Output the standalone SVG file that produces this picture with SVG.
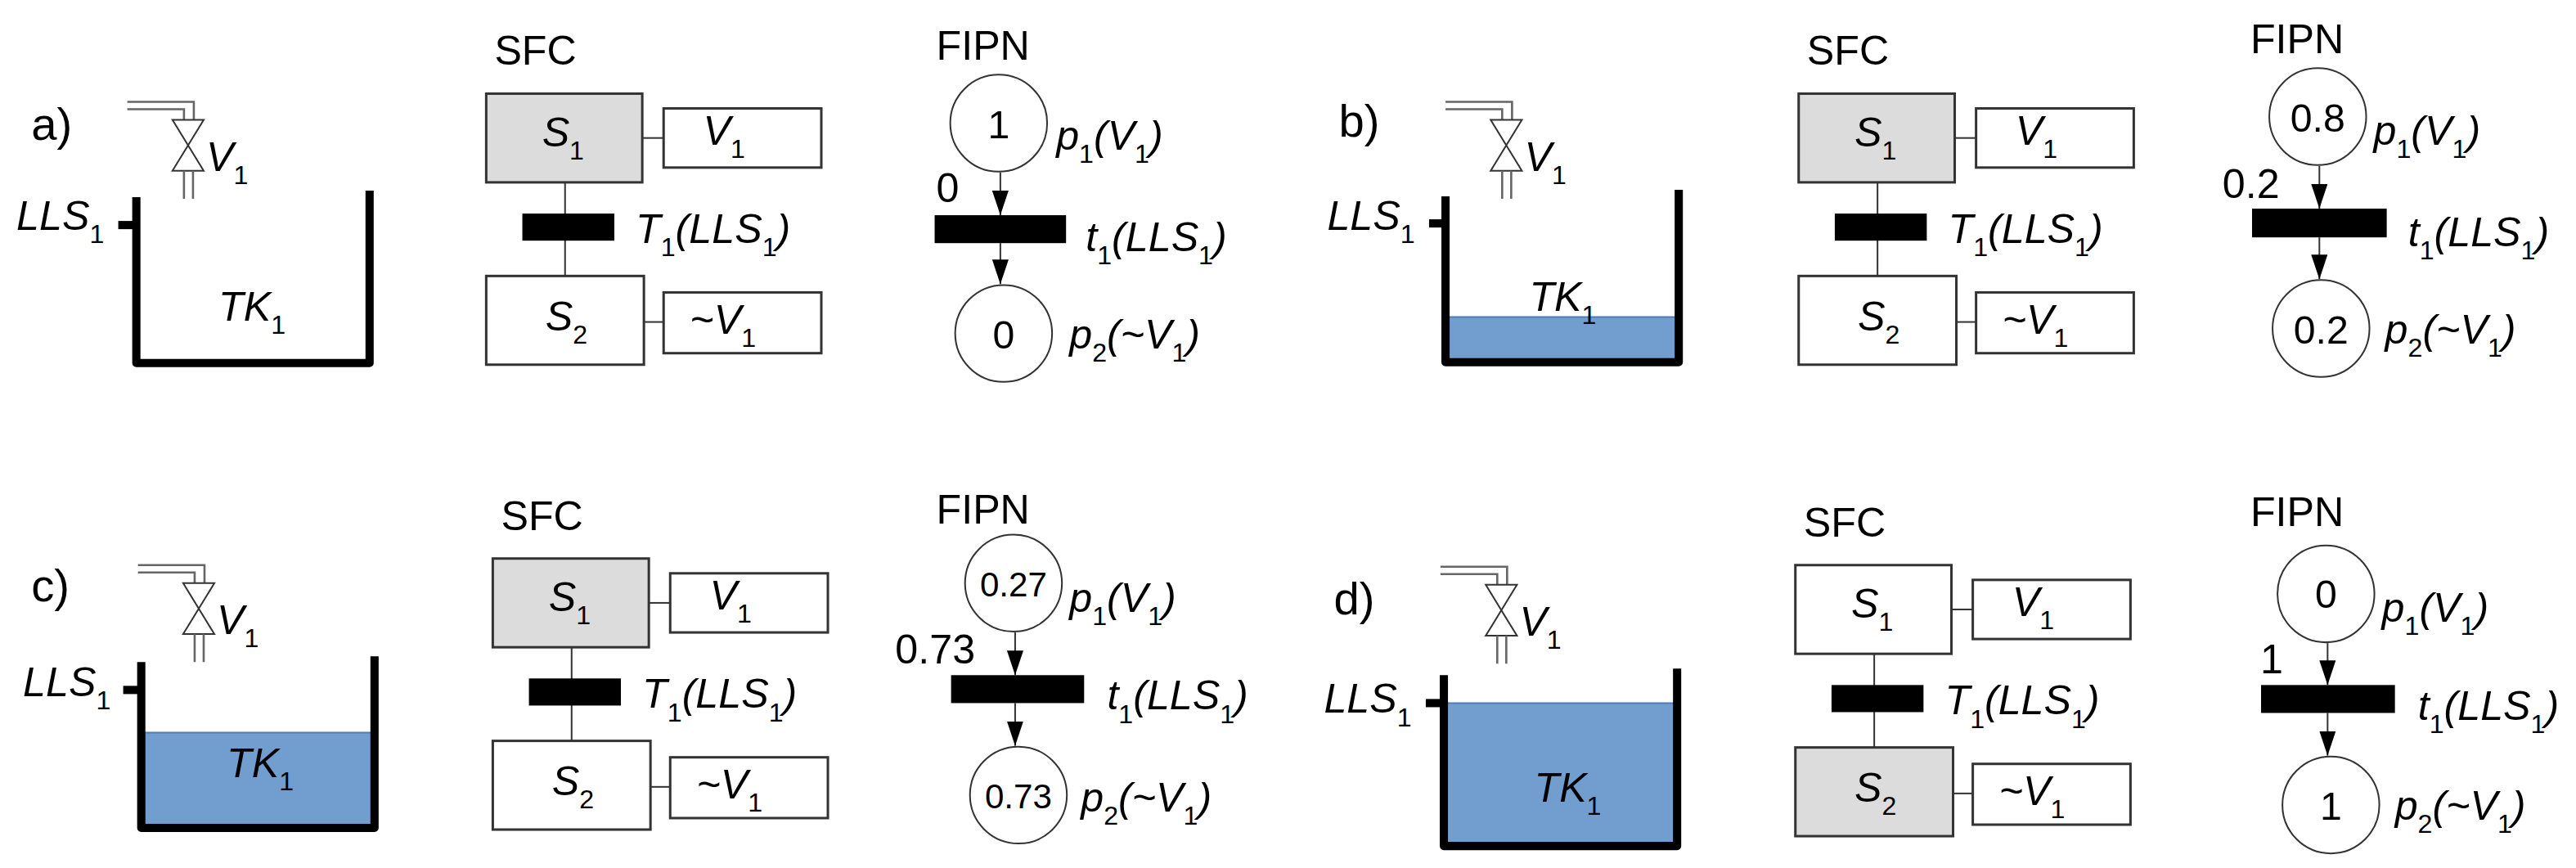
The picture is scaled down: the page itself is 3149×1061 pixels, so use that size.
<svg xmlns="http://www.w3.org/2000/svg" width="3149" height="1061" viewBox="0 0 3149 1061">
<defs>
<style>
text{font-family:"Liberation Sans",Arial,sans-serif;font-size:25px;fill:#000}
.i{font-style:italic}
.s{font-size:16px;font-style:normal}
.lab{font-size:28px}
.num{font-size:24px}
.box{fill:#fff;stroke:#333;stroke-width:1.5}
.gbox{fill:#dcdcdc;stroke:#333;stroke-width:1.5}
.ln{stroke:#333;stroke-width:1;fill:none}
.bar{fill:#000}
.pl{fill:#fff;stroke:#333;stroke-width:1}
.wall{stroke:#000;stroke-width:5;fill:none;stroke-linejoin:round}
.water{fill:#719dcf}
.wtop{stroke:#4f7db5;stroke-width:1}
.pipe{stroke:#666;stroke-width:1.3;fill:none}
</style>
<marker id="ah" viewBox="0 0 15 10" refX="15" refY="5" markerWidth="15" markerHeight="10" orient="auto" markerUnits="userSpaceOnUse"><path d="M0,0L15,5L0,10z" fill="#000"/></marker>
<g id="valve">
<path class="pipe" d="M-37,0H3.5V11M-37,4.5H-2.5V11"/>
<path d="M-9.5,11H9.5L-9.5,42H9.5Z" fill="#fff" stroke="#333" stroke-width="1"/>
<path class="pipe" d="M-2.5,42V59M3,42V59"/>
<text x="11" y="42" class="i">V<tspan class="s" dy="8">1</tspan></text>
</g>
<g id="sfc">
<text x="5" y="-17.5">SFC</text>
<line class="ln" x1="95" y1="27" x2="108" y2="27"/>
<rect class="box" x="108" y="9" width="96" height="36"/>
<text x="132" y="31" class="i">V<tspan class="s" dy="8">1</tspan></text>
<line class="ln" x1="48" y1="54" x2="48" y2="111"/>
<rect class="bar" x="22" y="73" width="56" height="16.5"/>
<text x="91" y="91" class="i">T<tspan class="s" dy="8">1</tspan><tspan dy="-8">(LLS</tspan><tspan class="s" dy="8">1</tspan><tspan dy="-8">)</tspan></text>
<line class="ln" x1="96" y1="139" x2="108" y2="139"/>
<rect class="box" x="108" y="121" width="96" height="37"/>
<text x="124" y="146" class="i">~V<tspan class="s" dy="8">1</tspan></text>
</g>
</defs>
<g transform="scale(2.008)">
<g id="connectors">
<line class="ln" x1="609" y1="105" x2="609" y2="131" marker-end="url(#ah)"/>
<line class="ln" x1="609" y1="148" x2="609" y2="173" marker-end="url(#ah)"/>
<line class="ln" x1="1412" y1="101" x2="1412" y2="127" marker-end="url(#ah)"/>
<line class="ln" x1="1412" y1="144.5" x2="1412" y2="170" marker-end="url(#ah)"/>
<line class="ln" x1="618" y1="385" x2="618" y2="411" marker-end="url(#ah)"/>
<line class="ln" x1="618" y1="428" x2="618" y2="454" marker-end="url(#ah)"/>
<line class="ln" x1="1417" y1="391.5" x2="1417" y2="417" marker-end="url(#ah)"/>
<line class="ln" x1="1417" y1="434" x2="1417" y2="460" marker-end="url(#ah)"/>
</g>
<!-- panel a -->
<g id="tankA">
<text x="19" y="85" class="lab">a)</text>
<use href="#valve" x="114.5" y="62"/>
<text x="10" y="140" class="i">LLS<tspan class="s" dy="8">1</tspan></text>
<line class="wall" x1="72" y1="137" x2="83" y2="137"/>
<path class="wall" d="M83,120V221H225V116"/>
<text x="133" y="195" class="i">TK<tspan class="s" dy="8">1</tspan></text>
</g>
<g id="sfcA" transform="translate(296,57)">
<use href="#sfc"/>
<rect class="gbox" x="0" y="0" width="95" height="54"/>
<text x="34" y="32" class="i">S<tspan class="s" dy="8">1</tspan></text>
<rect class="box" x="0" y="111" width="96" height="54"/>
<text x="36" y="144" class="i">S<tspan class="s" dy="8">2</tspan></text>
</g>
<g id="fipnA">
<text x="570" y="36.5">FIPN</text>
<circle class="pl" cx="608" cy="75" r="29.5"/>
<text x="608" y="84" text-anchor="middle" class="num">1</text>
<text x="643" y="91" class="i">p<tspan class="s" dy="8">1</tspan><tspan dy="-8">(V</tspan><tspan class="s" dy="8">1</tspan><tspan dy="-8">)</tspan></text>
<text x="570" y="123">0</text>
<rect class="bar" x="569" y="131" width="80" height="17"/>
<text x="661" y="153" class="i">t<tspan class="s" dy="8">1</tspan><tspan dy="-8">(LLS</tspan><tspan class="s" dy="8">1</tspan><tspan dy="-8">)</tspan></text>
<circle class="pl" cx="611" cy="203" r="29.5"/>
<text x="611" y="212" text-anchor="middle" class="num">0</text>
<text x="651" y="212" class="i">p<tspan class="s" dy="8">2</tspan><tspan dy="-8">(~V</tspan><tspan class="s" dy="8">1</tspan><tspan dy="-8">)</tspan></text>
</g>
<!-- panel b -->
<g id="tankB">
<text x="815" y="83" class="lab">b)</text>
<use href="#valve" x="917" y="62"/>
<text x="808" y="140" class="i">LLS<tspan class="s" dy="8">1</tspan></text>
<line class="wall" x1="870" y1="136" x2="880" y2="136"/>
<rect class="water" x="880" y="193" width="142" height="28"/>
<line class="wtop" x1="880" y1="193" x2="1022" y2="193"/>
<path class="wall" d="M880,119.5V220.5H1022V115.5"/>
<text x="931" y="189" class="i">TK<tspan class="s" dy="8">1</tspan></text>
</g>
<g id="sfcB" transform="translate(1095,57)">
<use href="#sfc"/>
<rect class="gbox" x="0" y="0" width="95" height="54"/>
<text x="34" y="32" class="i">S<tspan class="s" dy="8">1</tspan></text>
<rect class="box" x="0" y="111" width="96" height="54"/>
<text x="36" y="144" class="i">S<tspan class="s" dy="8">2</tspan></text>
</g>
<g id="fipnB">
<text x="1370" y="32.5">FIPN</text>
<circle class="pl" cx="1411" cy="71" r="29.5"/>
<text x="1411" y="80" text-anchor="middle" class="num">0.8</text>
<text x="1445" y="88" class="i">p<tspan class="s" dy="8">1</tspan><tspan dy="-8">(V</tspan><tspan class="s" dy="8">1</tspan><tspan dy="-8">)</tspan></text>
<text x="1353" y="120.5">0.2</text>
<rect class="bar" x="1371" y="127" width="82" height="17.5"/>
<text x="1466" y="150" class="i">t<tspan class="s" dy="8">1</tspan><tspan dy="-8">(LLS</tspan><tspan class="s" dy="8">1</tspan><tspan dy="-8">)</tspan></text>
<circle class="pl" cx="1413" cy="200" r="29.5"/>
<text x="1413" y="209" text-anchor="middle" class="num">0.2</text>
<text x="1452" y="209" class="i">p<tspan class="s" dy="8">2</tspan><tspan dy="-8">(~V</tspan><tspan class="s" dy="8">1</tspan><tspan dy="-8">)</tspan></text>
</g>
<!-- panel c -->
<g id="tankC">
<text x="19" y="366" class="lab">c)</text>
<use href="#valve" x="121" y="344"/>
<text x="14" y="424" class="i">LLS<tspan class="s" dy="8">1</tspan></text>
<line class="wall" x1="75" y1="420" x2="86" y2="420"/>
<rect class="water" x="86" y="446" width="142" height="58"/>
<line class="wtop" x1="86" y1="446" x2="228" y2="446"/>
<path class="wall" d="M86,403V504H228V399.5"/>
<text x="138" y="473" class="i">TK<tspan class="s" dy="8">1</tspan></text>
</g>
<g id="sfcC" transform="translate(300,340)">
<use href="#sfc"/>
<rect class="gbox" x="0" y="0" width="95" height="54"/>
<text x="34" y="32" class="i">S<tspan class="s" dy="8">1</tspan></text>
<rect class="box" x="0" y="111" width="96" height="54"/>
<text x="36" y="144" class="i">S<tspan class="s" dy="8">2</tspan></text>
</g>
<g id="fipnC">
<text x="570" y="318.5">FIPN</text>
<circle class="pl" cx="617" cy="355" r="29.5"/>
<text x="617" y="363" text-anchor="middle" style="font-size:21px">0.27</text>
<text x="651" y="372.5" class="i">p<tspan class="s" dy="8">1</tspan><tspan dy="-8">(V</tspan><tspan class="s" dy="8">1</tspan><tspan dy="-8">)</tspan></text>
<text x="545" y="404">0.73</text>
<rect class="bar" x="579" y="411" width="81" height="17"/>
<text x="674" y="432" class="i">t<tspan class="s" dy="8">1</tspan><tspan dy="-8">(LLS</tspan><tspan class="s" dy="8">1</tspan><tspan dy="-8">)</tspan></text>
<circle class="pl" cx="620" cy="484" r="29.5"/>
<text x="620" y="492" text-anchor="middle" style="font-size:21px">0.73</text>
<text x="658" y="494" class="i">p<tspan class="s" dy="8">2</tspan><tspan dy="-8">(~V</tspan><tspan class="s" dy="8">1</tspan><tspan dy="-8">)</tspan></text>
</g>
<!-- panel d -->
<g id="tankD">
<text x="812" y="374" class="lab">d)</text>
<use href="#valve" x="914" y="345"/>
<text x="806" y="434" class="i">LLS<tspan class="s" dy="8">1</tspan></text>
<line class="wall" x1="868" y1="428" x2="879" y2="428"/>
<rect class="water" x="879" y="428" width="142" height="87"/>
<line class="wtop" x1="879" y1="428" x2="1021" y2="428"/>
<path class="wall" d="M879,411V515H1021V407"/>
<text x="934" y="488" class="i">TK<tspan class="s" dy="8">1</tspan></text>
</g>
<g id="sfcD" transform="translate(1093,344)">
<use href="#sfc"/>
<rect class="box" x="0" y="0" width="95" height="54"/>
<text x="34" y="32" class="i">S<tspan class="s" dy="8">1</tspan></text>
<rect class="gbox" x="0" y="111" width="96" height="54"/>
<text x="36" y="144" class="i">S<tspan class="s" dy="8">2</tspan></text>
</g>
<g id="fipnD">
<text x="1370" y="320">FIPN</text>
<circle class="pl" cx="1416" cy="361.5" r="29.5"/>
<text x="1416" y="370" text-anchor="middle" class="num">0</text>
<text x="1450" y="378.5" class="i">p<tspan class="s" dy="8">1</tspan><tspan dy="-8">(V</tspan><tspan class="s" dy="8">1</tspan><tspan dy="-8">)</tspan></text>
<text x="1376" y="410">1</text>
<rect class="bar" x="1376.5" y="417" width="81.5" height="17"/>
<text x="1472" y="438" class="i">t<tspan class="s" dy="8">1</tspan><tspan dy="-8">(LLS</tspan><tspan class="s" dy="8">1</tspan><tspan dy="-8">)</tspan></text>
<circle class="pl" cx="1419" cy="490" r="29.5"/>
<text x="1419" y="499" text-anchor="middle" class="num">1</text>
<text x="1458" y="499" class="i">p<tspan class="s" dy="8">2</tspan><tspan dy="-8">(~V</tspan><tspan class="s" dy="8">1</tspan><tspan dy="-8">)</tspan></text>
</g>
</g>
</svg>
